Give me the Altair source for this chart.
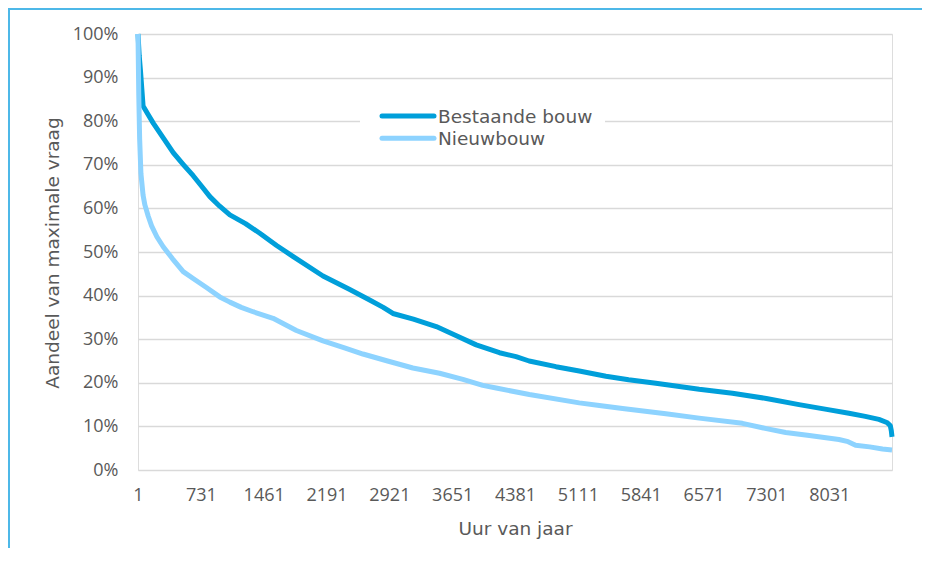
import altair as alt
import pandas as pd

# ---- data (hour of year, % of maximum demand) ----
hours_bestaand = [1, 15, 30, 45, 60, 120, 180, 300, 410, 530, 642, 731, 836, 950, 1068,
                  1250, 1416, 1611, 1800, 2150, 2450, 2692, 2850, 2962, 3200, 3466, 3700,
                  3930, 4200, 4393, 4545, 4857, 5127, 5437, 5700, 6017, 6520, 6906, 7300,
                  7680, 8000, 8260, 8450, 8608, 8700, 8740, 8752, 8760]
pct_bestaand = [100, 95, 91.5, 87.5, 83.5, 81.5, 79.5, 76, 72.8, 70, 67.5, 65.3, 62.7, 60.5, 58.5,
                56.5, 54.3, 51.5, 49, 44.5, 41.5, 39.0, 37.3, 35.9, 34.6, 32.9, 30.8,
                28.7, 26.9, 26.0, 25.0, 23.7, 22.7, 21.5, 20.7, 19.9, 18.5, 17.6, 16.4,
                15.0, 13.9, 13.0, 12.3, 11.6, 10.9, 10.2, 9.0, 7.6]

hours_nieuw = [1, 10, 20, 35, 60, 81, 120, 159, 220, 294, 400, 526, 650, 800, 951, 1068,
               1200, 1338, 1570, 1841, 2150, 2400, 2614, 2900, 3194, 3504, 3775, 4006, 4162,
               4547, 5127, 5360, 5630, 6133, 6520, 7022, 7300, 7525, 7800, 8144, 8250, 8337,
               8500, 8650, 8760]
pct_nieuw = [100, 86, 76, 68, 63, 60.8, 58.2, 56.0, 53.5, 51.2, 48.5, 45.5, 43.8, 41.8, 39.7, 38.5,
             37.3, 36.3, 34.8, 32.0, 29.6, 28.0, 26.6, 25.0, 23.4, 22.2, 20.8, 19.4, 18.8,
             17.3, 15.4, 14.8, 14.1, 12.9, 11.9, 10.7, 9.5, 8.6, 7.9, 7.0, 6.5, 5.7,
             5.3, 4.8, 4.6]

series_names = ["Bestaande bouw", "Nieuwbouw"]
series_colors = ["#009FDA", "#8DD3FF"]

x_ticks = [1, 731, 1461, 2191, 2921, 3651, 4381, 5111, 5841, 6571, 7301, 8031]
y_ticks = [0, 10, 20, 30, 40, 50, 60, 70, 80, 90, 100]

x_title = "Uur van jaar"
y_title = "Aandeel van maximale vraag"

TEXT = "#595959"
GRID = "#D9D9D9"
TITLE_FONT = "DejaVu Sans"
LABEL_FONT = "Open Sans"

df_b = pd.DataFrame({"uur": hours_bestaand, "pct": pct_bestaand, "serie": series_names[0]})
df_n = pd.DataFrame({"uur": hours_nieuw, "pct": pct_nieuw, "serie": series_names[1]})

x_enc = alt.X(
    "uur:Q",
    scale=alt.Scale(domain=[1, 8760], nice=False, zero=False),
    axis=alt.Axis(
        values=x_ticks, format="d", grid=False, domain=False, ticks=False, tickSize=0,
        labelFont=LABEL_FONT, labelFontSize=18, labelColor=TEXT, labelPadding=16.5,
        labelFlush=False, labelOverlap=False,
        title=x_title, titleFont=TITLE_FONT, titleFontSize=18.5, titleFontWeight="normal",
        titleColor=TEXT, titleBaseline="middle", titleY=58.5,
    ),
)
y_enc = alt.Y(
    "pct:Q",
    scale=alt.Scale(domain=[0, 100], nice=False),
    axis=alt.Axis(
        values=y_ticks, grid=True, gridColor=GRID, gridWidth=1.5,
        domain=False, ticks=False, tickSize=0,
        labelExpr="datum.value + '%'",
        labelFont=LABEL_FONT, labelFontSize=18, labelColor=TEXT, labelPadding=20,
        title=y_title, titleFont=TITLE_FONT, titleFontSize=18.5, titleFontWeight="normal",
        titleColor=TEXT, titleBaseline="middle", titleX=-86, titleY=218.5, titleAngle=-90,
    ),
)

line_b = alt.Chart(df_b).mark_line(color=series_colors[0], strokeWidth=5,
                                   strokeJoin="round").encode(x=x_enc, y=y_enc)
line_n = alt.Chart(df_n).mark_line(color=series_colors[1], strokeWidth=5,
                                   strokeJoin="round").encode(x="uur:Q", y="pct:Q")

# ---- legend inside the plot ----
legend_bg = alt.Chart(pd.DataFrame({"k": [0]})).mark_rect(color="white").encode(
    x=alt.value(222), x2=alt.value(467), y=alt.value(66), y2=alt.value(118)
)
legend_layers = [legend_bg]
for i, (name, col) in enumerate(zip(series_names, series_colors)):
    ypos = 82.0 + i * 22.2
    d = pd.DataFrame({"naam": [name]})
    legend_layers.append(
        alt.Chart(d).mark_rule(color=col, strokeWidth=5, strokeCap="round").encode(
            x=alt.value(244), x2=alt.value(296), y=alt.value(ypos)
        )
    )
    legend_layers.append(
        alt.Chart(d).mark_text(align="left", baseline="middle", font=TITLE_FONT,
                               fontSize=18.5, color=TEXT).encode(
            x=alt.value(300), y=alt.value(ypos + 1.2), text="naam:N"
        )
    )

# ---- outer light-blue frame (top and left edges) ----
frame_df = pd.DataFrame({"k": [0]})
frame_left = alt.Chart(frame_df).mark_rule(color="#4DB8E8", strokeWidth=2).encode(
    x=alt.value(-129), y=alt.value(-26), y2=alt.value(514)
)
frame_top = alt.Chart(frame_df).mark_rule(color="#4DB8E8", strokeWidth=2).encode(
    x=alt.value(-130), x2=alt.value(784), y=alt.value(-25)
)

chart = alt.layer(line_b, line_n, *legend_layers, frame_left, frame_top).properties(
    width=754, height=436,
    autosize=alt.AutoSizeParams(type="none"),
    padding={"left": 130, "top": 26, "right": 30, "bottom": 78},
).configure_view(
    stroke=GRID, strokeWidth=1.5
).configure(background="white")

chart.save("out.html", embed_options={"renderer": "svg", "actions": False})
